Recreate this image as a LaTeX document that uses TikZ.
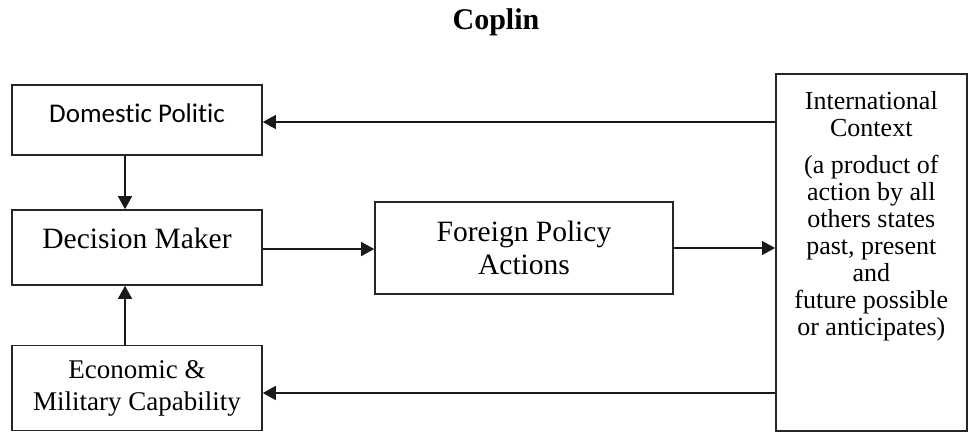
\documentclass[tikz,border=0pt]{standalone}
\usepackage{fontspec}
\setmainfont{Liberation Serif}
\newfontfamily\calibrifont[Ligatures=NoCommon]{Carlito}
\usetikzlibrary{arrows.meta}
\begin{document}
\begin{tikzpicture}[x=1pt,y=-1pt,
	box/.style={draw=black!85,line width=1.6pt,inner sep=0pt,align=center,font=\fontsize{27}{32}\selectfont},
	arr/.style={-{Triangle[length=13pt,width=14pt]},line width=1.4pt,black!90}]
	\useasboundingbox (0,0) rectangle (968,432);
	% title
	\node[font=\bfseries\fontsize{30}{34}\selectfont] (title) at (496,22) {Coplin};
	% left column
	\node[box,minimum width=250pt,minimum height=70pt,text depth=14pt,font=\calibrifont\fontsize{27}{32}\selectfont] (dom) at (137,120) {Domestic Politic};
	\node[box,minimum width=250pt,minimum height=75pt,text depth=19pt,font=\fontsize{29.5}{33}\selectfont] (dm) at (137,247.5) {Decision Maker};
	\node[box,minimum width=250pt,minimum height=85pt] (eco) at (137,388) {Economic \&\\Military Capability};
	% middle and right
	\node[box,minimum width=298pt,minimum height=92pt,font=\fontsize{29.5}{33}\selectfont] (fp) at (524,248) {Foreign Policy\\Actions};
	\node[box,minimum width=191pt,minimum height=357pt,anchor=north west] (ic) at (775,73) {};
	\node[anchor=north,align=center,font=\fontsize{26}{27}\selectfont] (ictext) at ([yshift=-15]ic.north) {International\\Context\\[10pt](a product of\\action by all\\others states\\past, present\\and\\future possible\\or anticipates)};
	% connectors
	\draw[arr] ([yshift=-2]ic.west |- dom.east) -- ([yshift=-2]dom.east);
	\draw[arr] ([xshift=-12]dom.south) -- ([xshift=-12]dm.north);
	\draw[arr] ([xshift=-12]eco.north) -- ([xshift=-12]dm.south);
	\draw[arr] ([yshift=-1.5]dm.east) -- ([yshift=-1.5]fp.west |- dm.east);
	\draw[arr] (fp.east) -- (ic.west |- fp.east);
	\draw[arr] ([yshift=-5]ic.west |- eco.east) -- ([yshift=-5]eco.east);
\end{tikzpicture}
\end{document}
